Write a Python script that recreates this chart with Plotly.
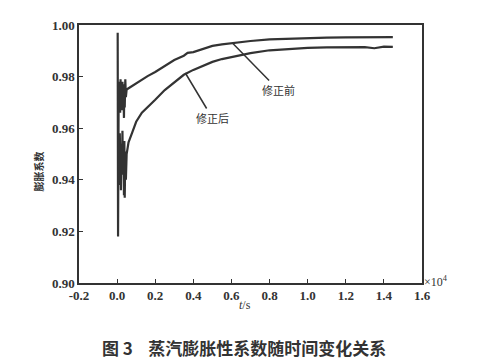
import plotly.graph_objects as go

# time in units of 1e4 s
t_before = [0.003, 0.005, 0.008, 0.010, 0.012, 0.014, 0.016, 0.018, 0.020, 0.022, 0.025, 0.028,
            0.030, 0.033, 0.036, 0.038, 0.040, 0.043, 0.046, 0.05, 0.06, 0.08, 0.10, 0.13,
            0.16, 0.20, 0.25, 0.30, 0.35, 0.37, 0.40, 0.45, 0.50, 0.55, 0.60, 0.70, 0.80,
            0.90, 1.00, 1.10, 1.20, 1.30, 1.40, 1.447]
y_before = [0.997, 0.918, 0.972, 0.978, 0.968, 0.977, 0.966, 0.979, 0.970, 0.976, 0.967, 0.978,
            0.972, 0.975, 0.964, 0.977, 0.968, 0.979, 0.972, 0.975, 0.9755, 0.9765, 0.9775, 0.9790,
            0.9802, 0.9818, 0.9842, 0.9864, 0.9881, 0.9892, 0.9895, 0.9908, 0.9919, 0.9925, 0.9930,
            0.9938, 0.9944, 0.9947, 0.9950, 0.9951, 0.9952, 0.9953, 0.9953, 0.9953]

t_after = [0.010, 0.012, 0.014, 0.016, 0.018, 0.020, 0.022, 0.025, 0.028, 0.030, 0.033, 0.036,
           0.038, 0.040, 0.043, 0.046, 0.05, 0.06, 0.08, 0.10, 0.13, 0.16, 0.20, 0.25, 0.30,
           0.35, 0.40, 0.45, 0.50, 0.55, 0.60, 0.70, 0.80, 0.90, 1.00, 1.10, 1.20, 1.30, 1.35,
           1.40, 1.447]
y_after = [0.955, 0.938, 0.958, 0.940, 0.956, 0.936, 0.954, 0.942, 0.959, 0.945, 0.953, 0.934,
           0.955, 0.933, 0.951, 0.940, 0.950, 0.9545, 0.9585, 0.9625, 0.9660, 0.9680, 0.9710,
           0.9748, 0.9779, 0.9807, 0.9826, 0.9843, 0.9857, 0.9868, 0.9876, 0.9891, 0.9902,
           0.9907, 0.9911, 0.9913, 0.9914, 0.9914, 0.9910, 0.9916, 0.9915]

x_ticks = [-0.2, 0.0, 0.2, 0.4, 0.6, 0.8, 1.0, 1.2, 1.4, 1.6]
x_ticklabels = ["-0.2", "0.0", "0.2", "0.4", "0.6", "0.8", "1.0", "1.2", "1.4", "1.6"]
y_ticks = [0.90, 0.92, 0.94, 0.96, 0.98, 1.00]
y_ticklabels = ["0.90", "0.92", "0.94", "0.96", "0.98", "1.00"]

serif = "Liberation Serif, Times New Roman, serif"
cjk = "Noto Sans CJK SC"
ink = "#333333"

fig = go.Figure()
fig.add_trace(go.Scatter(x=t_before, y=y_before, mode="lines", name="修正前",
                         line=dict(color=ink, width=2.2)))
fig.add_trace(go.Scatter(x=t_after, y=y_after, mode="lines", name="修正后",
                         line=dict(color=ink, width=2.2)))

axis_common = dict(showline=True, linecolor=ink, linewidth=1.5, mirror=True,
                   ticks="inside", ticklen=4, tickcolor=ink, showgrid=False, zeroline=False,
                   automargin=False,
                   tickfont=dict(family=serif, size=13, color=ink, weight="bold"))

fig.update_xaxes(range=[-0.2, 1.6], tickvals=x_ticks, ticktext=x_ticklabels, **axis_common)
fig.update_yaxes(range=[0.90, 1.00], tickvals=y_ticks, ticktext=y_ticklabels, **axis_common)

fig.add_annotation(x=0.605, y=0.993, text="修正前", showarrow=True, arrowhead=0, arrowwidth=1.5,
                   arrowcolor=ink, ax=46, ay=47, font=dict(family=cjk, size=11, color=ink))
fig.add_annotation(x=0.358, y=0.9814, text="修正后", showarrow=True, arrowhead=0, arrowwidth=1.5,
                   arrowcolor=ink, ax=27, ay=45, font=dict(family=cjk, size=11, color=ink))

fig.add_annotation(xref="paper", yref="paper", x=1.0, y=0.0, xanchor="left", yanchor="middle",
                   text="×10<sup>4</sup>", showarrow=False, xshift=0, yshift=2,
                   font=dict(family=serif, size=12, color=ink))
fig.add_annotation(xref="paper", yref="paper", x=0.484, y=0, yanchor="middle", yshift=-22,
                   text="<i>t</i>/s", showarrow=False, font=dict(family=serif, size=12, color=ink))
fig.add_annotation(xref="paper", yref="paper", x=0, y=0.43, xanchor="right", yanchor="middle",
                   xshift=-31, text="<b>膨胀系数</b>", textangle=-90, showarrow=False,
                   font=dict(family=cjk, size=10, color=ink))
fig.add_annotation(xref="paper", yref="paper", x=0.48, y=0, yanchor="middle", yshift=-64,
                   text="<b>图 3    蒸汽膨胀性系数随时间变化关系</b>", showarrow=False,
                   font=dict(family=cjk, size=17, color=ink))

fig.update_layout(width=477, height=354, margin=dict(l=71, r=63, t=17, b=79),
                  paper_bgcolor="white", plot_bgcolor="white", showlegend=False)

fig.write_html("out.html")
